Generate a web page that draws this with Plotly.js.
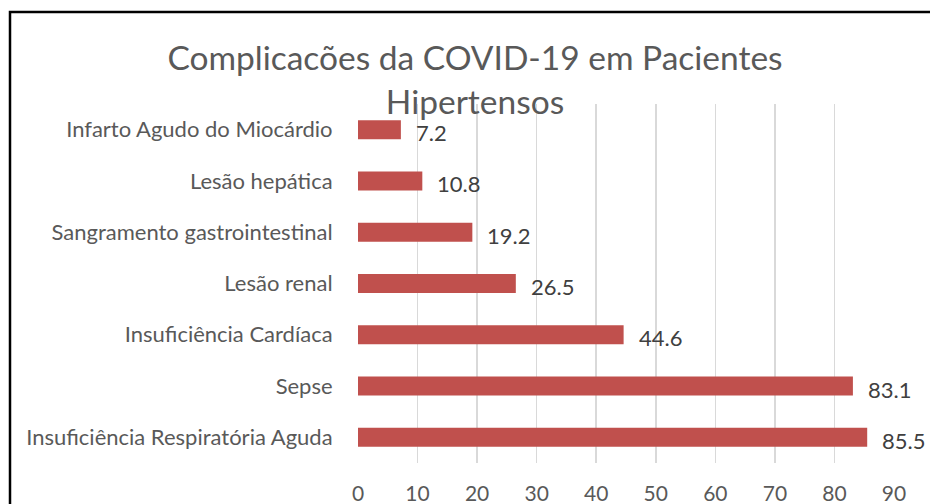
<!DOCTYPE html>
<html>
<head>
<meta charset="utf-8">
<script src="https://cdn.plot.ly/plotly-3.0.1.min.js"></script>
<style>html,body{margin:0;padding:0;background:#fff;}#chart{width:930px;height:504px;}</style>
</head>
<body>
<div id="chart"></div>
<script>
const categories = [
  "Infarto Agudo do Miocárdio",
  "Lesão hepática",
  "Sangramento gastrointestinal",
  "Lesão renal",
  "Insuficiência Cardíaca",
  "Sepse",
  "Insuficiência Respiratória Aguda"
];
const values = [7.2, 10.8, 19.2, 26.5, 44.6, 83.1, 85.5];
const xTicks = [0, 10, 20, 30, 40, 50, 60, 70, 80, 90];
const titleText = "Complicacões da COVID-19 em Pacientes<br>Hipertensos";

const FONT = "Lato, sans-serif";
const L = 358, R = 36, T = 104, B = 41;
const PW = 930 - L - R, PH = 504 - T - B;

const annotations = categories.map((c, i) => ({
  x: values[i], y: c, xref: 'x', yref: 'y',
  text: values[i].toFixed(1), showarrow: false,
  xanchor: 'left', yanchor: 'middle', xshift: 13, yshift: -3,
  font: {family: FONT, size: 22, color: '#404040'}
}));

const data = [{
  type: 'bar', orientation: 'h',
  x: values, y: categories,
  marker: {color: '#C0504D'},
  hoverinfo: 'x+y'
}];

const layout = {
  width: 930, height: 504,
  margin: {l: L, r: R, t: T, b: B, pad: 0},
  paper_bgcolor: '#ffffff', plot_bgcolor: '#ffffff',
  showlegend: false,
  bargap: 0.63,
  title: {
    text: titleText,
    font: {family: FONT, size: 33.5, color: '#595959'},
    x: 475 / 930, xanchor: 'center',
    xref: 'container', yref: 'container',
    y: 1 - 70 / 504, yanchor: 'middle'
  },
  xaxis: {
    range: [0, 90],
    tickvals: xTicks,
    ticktext: xTicks.map(String),
    showgrid: true, gridcolor: '#d9d9d9', gridwidth: 1.5,
    zeroline: false, showline: false,
    ticks: 'outside', ticklen: 12, tickcolor: 'rgba(0,0,0,0)',
    tickfont: {family: FONT, size: 21, color: '#595959'}
  },
  yaxis: {
    type: 'category',
    autorange: 'reversed',
    showgrid: false, zeroline: false, showline: false,
    ticks: 'outside', ticklen: 20, tickcolor: 'rgba(0,0,0,0)',
    tickfont: {family: FONT, size: 22, color: '#595959'}
  },
  annotations: annotations,
  shapes: [{
    type: 'rect', xref: 'paper', yref: 'paper',
    x0: (10 - L) / PW, x1: (945 - L) / PW,
    y0: (504 - B - 520) / PH, y1: (504 - B - 12) / PH,
    line: {color: '#000000', width: 2.5}, fillcolor: 'rgba(0,0,0,0)',
    layer: 'above'
  }]
};

Plotly.newPlot('chart', data, layout, {displayModeBar: false, staticPlot: true});
</script>
</body>
</html>
